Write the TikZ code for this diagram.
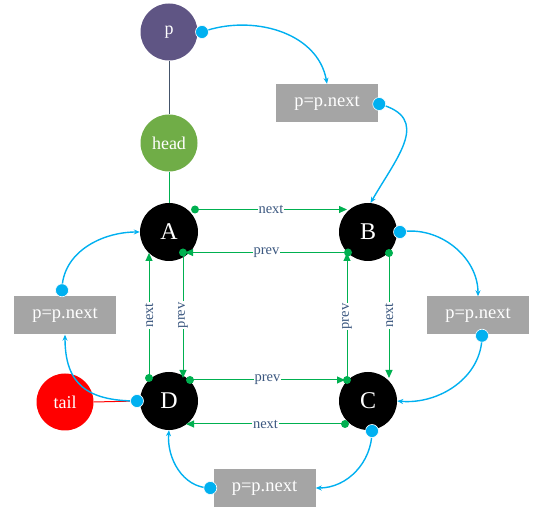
\documentclass[tikz,border=0pt]{standalone}
\usepackage{fontspec}
\setmainfont{Liberation Serif}
\usetikzlibrary{arrows.meta,calc}
\definecolor{pcol}{RGB}{95,85,132}
\definecolor{headcol}{RGB}{112,173,71}
\definecolor{gcol}{RGB}{0,176,80}
\definecolor{bcol}{RGB}{0,176,240}
\definecolor{labcol}{RGB}{60,88,128}
\definecolor{boxcol}{RGB}{165,165,165}
\definecolor{linkcol}{RGB}{68,84,106}
\begin{document}
\begin{tikzpicture}[x=1pt,y=1pt,
  listnode/.style={circle,fill=black,minimum size=58pt,inner sep=0pt,text=white,font=\fontsize{24}{24}\selectfont},
  ptrnode/.style={circle,minimum size=57pt,inner sep=0pt,text=white,font=\fontsize{18}{18}\selectfont},
  opbox/.style={rectangle,fill=boxcol,minimum width=102pt,minimum height=38pt,inner sep=0pt,text=white,font=\fontsize{18.5}{18.5}\selectfont},
  gline/.style={gcol,line width=1pt,-{Triangle[length=8pt,width=7pt]}},
  gdot/.style={fill=gcol},
  bline/.style={bcol,line width=1.4pt,-{Stealth[length=6pt,width=5pt]}},
  bdot/.style={fill=bcol,draw=white,line width=0.6pt},
  lab/.style={fill=white,inner sep=1pt,text=labcol,font=\fontsize{14.5}{14.5}\selectfont}
]
\useasboundingbox (0,0) rectangle (537,510);
% nodes
\node[ptrnode,fill=pcol] (p) at (169,478) {p};
\node[ptrnode,fill=headcol] (head) at (169,367) {head};
\node[ptrnode,fill=red] (tail) at (65,108) {tail};
\node[listnode] (A) at (169,278) {A};
\node[listnode] (B) at (368,278) {B};
\node[listnode] (C) at (368,109) {C};
\node[listnode] (D) at (169,109) {D};
\node[opbox] (box1) at (327,407) {p=p.next};
\node[opbox] (box2) at (478,194.5) {p=p.next};
\node[opbox] (box3) at (264.5,22) {p=p.next};
\node[opbox] (box4) at (65,194.5) {p=p.next};
% plain links
\draw[linkcol,line width=1pt] (p.south) -- (head.north);
\draw[gcol,line width=0.8pt] (head.south) -- (A.north);
% green links
\draw[gline] ($(A)+(26,22.5)$) -- node[lab]{next} ($(B)+(-21,22.5)$);
\draw[gline] ($(B)+(-20,-20.5)$) -- node[lab]{prev} ($(A)+(16,-20.5)$);
\draw[gline] ($(A)+(14,-20.5)$) -- node[lab,rotate=90]{prev} ($(D)+(14,23)$);
\draw[gline] ($(D)+(-20,23)$) -- node[lab,rotate=90]{next} ($(A)+(-20,-21)$);
\draw[gline] ($(D)+(21,21)$) -- node[lab]{prev} ($(C)+(-23,21)$);
\draw[gline] ($(C)+(-23,-23)$) -- node[lab]{next} ($(D)+(17,-23)$);
\draw[gline] ($(B)+(21,-21)$) -- node[lab,rotate=90]{next} ($(C)+(21,23)$);
\draw[gline] ($(C)+(-21,21)$) -- node[lab,rotate=90]{prev} ($(B)+(-21,-21)$);
\foreach \n/\dx/\dy in {A/26/22.5, B/-20/-20.5, A/14/-20.5, D/-20/23, D/21/21, C/-23/-23, B/21/-21, C/-21/21}
  \fill[gdot] ($(\n)+(\dx,\dy)$) circle (4);
% blue traversal
\coordinate (d1) at ($(p)+(33,0)$);
\coordinate (d2) at ($(box1.east)+(1,-1)$);
\coordinate (d3) at ($(B)+(32,0)$);
\coordinate (d4) at ($(box2.south)+(4,-1)$);
\coordinate (d5) at ($(C)+(4,-30)$);
\coordinate (d6) at ($(box3.west)+(-3,0)$);
\coordinate (d7) at ($(D)+(-32,0)$);
\coordinate (d8) at ($(box4.north)+(-3,6)$);
\draw[red,line width=1pt] (tail.east) -- (d7);
\draw[bline] (d1) to[out=20,in=100] (box1.north);
\draw[bline] (d2) to[out=-15,in=60,looseness=1.4] (B.85);
\draw[bline] (d3) to[out=10,in=90] (box2.north);
\draw[bline] (d4) to[out=-90,in=-5] (C.east);
\draw[bline] (d5) to[out=-90,in=0] (box3.east);
\draw[bline] (d6) to[out=180,in=-95] (D.south);
\draw[bline] (d7) to[out=180,in=-90,looseness=1.3] (box4.south);
\draw[bline] (d8) to[out=90,in=180] (A.west);
\foreach \d in {d1,d2,d3,d4,d5,d6,d7,d8}
  \filldraw[bdot] (\d) circle (6.5);
\end{tikzpicture}
\end{document}
